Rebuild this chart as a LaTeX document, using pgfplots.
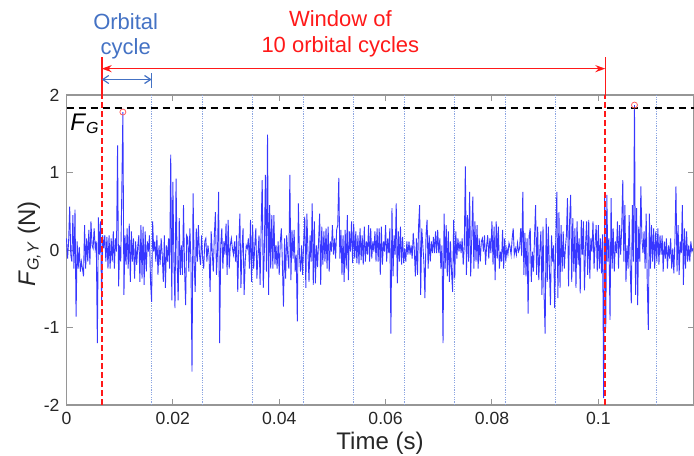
\documentclass[border=0pt]{standalone}
\usepackage{fontspec}
\setmainfont{Liberation Sans}
\usepackage{pgfplots}
\pgfplotsset{compat=1.18}
\usetikzlibrary{arrows.meta}
\definecolor{sig}{RGB}{55,55,255}
\definecolor{cyc}{RGB}{140,165,225}
\definecolor{annblue}{RGB}{68,114,196}
\definecolor{annred}{RGB}{255,25,25}
\definecolor{axgray}{RGB}{150,150,150}
\definecolor{txtgray}{RGB}{38,38,38}
\begin{document}
\begin{tikzpicture}
\useasboundingbox (0,0) rectangle (347pt,227.5pt);
\begin{axis}[
  at={(33.25pt,25pt)}, anchor=south west,
  scale only axis, width=313.5pt, height=155pt,
  xmin=0, xmax=0.1179, ymin=-2, ymax=2,
  xtick={0,0.02,0.04,0.06,0.08,0.1},
  xticklabels={0,0.02,0.04,0.06,0.08,0.1},
  ytick={-2,-1,0,1,2},
  yticklabels={-2,-1,0,1,2},
  tick align=inside,
  axis line style={axgray, line width=0.6pt},
  every tick/.style={axgray, line width=0.5pt},
  major tick length=3pt,
  tick label style={font=\fontsize{8.8}{10}\selectfont, text=txtgray},
  xlabel={Time (s)},
  ylabel={\textit{F}\textsubscript{\textit{G,Y}} (N)},
  xlabel style={at={(rel axis cs:0.5,0)}, anchor=base, yshift=-22pt, font=\fontsize{12}{14}\selectfont, text=txtgray},
  ylabel style={at={(rel axis cs:-0.0502,0.52)}, anchor=base, font=\fontsize{12}{14}\selectfont, text=txtgray},
  clip=false,
]
% orbital cycle boundaries
\addplot[cyc, line width=0.5pt, dash pattern=on 0.6pt off 0.6pt] coordinates {(0.01601,-2)(0.01601,2)};
\addplot[cyc, line width=0.5pt, dash pattern=on 0.6pt off 0.6pt] coordinates {(0.02566,-2)(0.02566,2)};
\addplot[cyc, line width=0.5pt, dash pattern=on 0.6pt off 0.6pt] coordinates {(0.03506,-2)(0.03506,2)};
\addplot[cyc, line width=0.5pt, dash pattern=on 0.6pt off 0.6pt] coordinates {(0.04464,-2)(0.04464,2)};
\addplot[cyc, line width=0.5pt, dash pattern=on 0.6pt off 0.6pt] coordinates {(0.05398,-2)(0.05398,2)};
\addplot[cyc, line width=0.5pt, dash pattern=on 0.6pt off 0.6pt] coordinates {(0.06363,-2)(0.06363,2)};
\addplot[cyc, line width=0.5pt, dash pattern=on 0.6pt off 0.6pt] coordinates {(0.07297,-2)(0.07297,2)};
\addplot[cyc, line width=0.5pt, dash pattern=on 0.6pt off 0.6pt] coordinates {(0.08256,-2)(0.08256,2)};
\addplot[cyc, line width=0.5pt, dash pattern=on 0.6pt off 0.6pt] coordinates {(0.09195,-2)(0.09195,2)};
\addplot[cyc, line width=0.5pt, dash pattern=on 0.6pt off 0.6pt] coordinates {(0.11094,-2)(0.11094,2)};
% signal
\addplot[sig, line width=0.45pt] coordinates {
(0,0.15)(0.0002,-0.11)(0.0004,0.11)(0.0006,0.56)(0.0008,-0.06)(0.0010,-0.15)(0.0012,0.45)(0.0014,-0.24)(0.0016,0.52)(0.0018,-0.86)
(0.0020,0.11)(0.0022,-0.24)(0.0024,0.04)(0.0026,-0.28)(0.0028,-0.15)(0.0030,-0.24)(0.0032,-0.34)(0.0034,0.32)(0.0036,-0.24)(0.0038,0.15)
(0.0040,-0.15)(0.0042,0.26)(0.0044,-0.19)(0.0046,0.37)(0.0048,0.06)(0.0050,0.02)(0.0052,0.28)(0.0054,0.02)(0.0056,0.11)(0.0058,-1.20)
(0.0060,0.42)(0.0062,-0.06)(0.0064,0.37)(0.0066,-0.67)(0.0068,0.19)(0.0070,0.02)(0.0072,0.19)(0.0074,-0.15)(0.0076,0.17)(0.0078,-0.24)
(0.0080,0.19)(0.0082,-0.24)(0.0084,0.15)(0.0086,-0.15)(0.0088,0.24)(0.0090,-0.24)(0.0092,0.15)(0.0094,-0.02)(0.0096,1.35)(0.0098,-0.47)
(0.0100,0.06)(0.0102,-0.15)(0.0104,0.75)(0.0106,1.78)(0.0108,-0.58)(0.0110,0.19)(0.0112,-0.19)(0.0114,0.28)(0.0116,-0.24)(0.0118,0.34)
(0.0120,-0.41)(0.0122,0.24)(0.0124,-0.15)(0.0126,0.15)(0.0128,-0.37)(0.0130,0.11)(0.0132,-0.19)(0.0134,0.05)(0.0136,0.19)(0.0138,-0.41)
(0.0140,0.32)(0.0142,-0.37)(0.0144,0.30)(0.0146,-0.45)(0.0148,0.24)(0.0150,-0.28)(0.0152,0.11)(0.0154,-0.02)(0.0156,0.19)(0.0158,-0.41)
(0.0160,-0.67)(0.0162,0.37)(0.0164,-0.02)(0.0166,0.11)(0.0168,-0.15)(0.0170,0.19)(0.0172,-0.32)(0.0174,0.06)(0.0176,-0.19)(0.0178,0.15)
(0.0180,-0.06)(0.0182,-0.41)(0.0184,0.19)(0.0186,-0.49)(0.0188,0.06)(0.0190,-0.15)(0.0192,0.15)(0.0194,-0.24)(0.0196,1.23)(0.0198,-0.65)
(0.0200,0.88)(0.0202,-0.15)(0.0204,-0.75)(0.0206,0.92)(0.0208,-0.15)(0.0210,-0.65)(0.0212,0.41)(0.0214,-0.32)(0.0216,0.06)(0.0218,-0.32)
(0.0220,0.58)(0.0222,-0.24)(0.0224,-0.71)(0.0226,0.19)(0.0228,0.15)(0.0230,-0.28)(0.0232,0.28)(0.0234,-0.15)(0.0236,-1.57)(0.0238,0.73)
(0.0240,-0.15)(0.0242,-0.54)(0.0244,0.28)(0.0246,-0.15)(0.0248,0.32)(0.0250,-0.06)(0.0252,-0.19)(0.0254,0.19)(0.0256,-0.11)(0.0258,-0.24)
(0.0260,0.11)(0.0262,0.15)(0.0264,-0.15)(0.0266,0.06)(0.0268,-0.06)(0.0270,-0.54)(0.0272,0.24)(0.0274,-0.02)(0.0276,-0.28)(0.0278,0.19)
(0.0280,0.49)(0.0282,-0.32)(0.0284,-0.02)(0.0286,0.75)(0.0288,-1.20)(0.0290,0.06)(0.0292,0.28)(0.0294,-0.24)(0.0296,0.11)(0.0298,-0.06)
(0.0300,0.34)(0.0302,-0.32)(0.0304,0.39)(0.0306,-0.24)(0.0308,0.06)(0.0310,0.15)(0.0312,0.02)(0.0314,-0.06)(0.0316,0.11)(0.0318,-0.15)
(0.0320,0.19)(0.0322,-0.54)(0.0324,0.06)(0.0326,0.47)(0.0328,-0.49)(0.0330,0.02)(0.0332,0.28)(0.0334,-0.58)(0.0336,-0.15)(0.0338,0.06)
(0.0340,0.02)(0.0342,0.15)(0.0344,-0.24)(0.0346,0.39)(0.0348,-0.41)(0.0350,0.32)(0.0352,-0.24)(0.0354,0.06)(0.0356,0.28)(0.0358,-0.37)
(0.0360,-0.06)(0.0362,0.19)(0.0364,-0.45)(0.0366,0.28)(0.0368,0.90)(0.0370,-0.49)(0.0372,-0.02)(0.0374,0.97)(0.0376,-0.28)(0.0378,1.49)
(0.0380,-0.58)(0.0382,0.58)(0.0384,-0.24)(0.0386,0.45)(0.0388,-0.24)(0.0390,0.45)(0.0392,-0.19)(0.0394,0.06)(0.0396,-0.24)(0.0398,0.11)
(0.0400,-0.32)(0.0402,0.10)(0.0404,0.28)(0.0406,-0.19)(0.0408,-0.73)(0.0410,0.15)(0.0412,-0.37)(0.0414,0.19)(0.0416,-0.06)(0.0418,-0.24)
(0.0420,0.97)(0.0422,-0.39)(0.0424,0.26)(0.0426,-0.11)(0.0428,0.26)(0.0430,-0.28)(0.0432,-0.06)(0.0434,-0.92)(0.0436,0.60)(0.0438,-0.06)
(0.0440,-0.28)(0.0442,0.06)(0.0444,-0.32)(0.0446,0.11)(0.0448,0.43)(0.0450,-0.49)(0.0452,0.47)(0.0454,-0.02)(0.0456,-0.41)(0.0458,0.19)
(0.0460,-0.15)(0.0462,0.60)(0.0464,-0.45)(0.0466,0.37)(0.0468,-0.43)(0.0470,0.06)(0.0472,-0.22)(0.0474,0.11)(0.0476,0.47)(0.0478,-0.45)
(0.0480,0.30)(0.0482,-0.19)(0.0484,0.24)(0.0486,-0.15)(0.0488,0.28)(0.0490,-0.24)(0.0492,0.30)(0.0494,-0.28)(0.0496,0.11)(0.0498,-0.02)
(0.0500,0.32)(0.0502,-0.06)(0.0504,0.15)(0.0506,-0.11)(0.0508,0.26)(0.0510,0.32)(0.0512,0.93)(0.0514,-0.11)(0.0516,0.26)(0.0518,-0.32)
(0.0520,0.19)(0.0522,-0.41)(0.0524,0.26)(0.0526,-0.24)(0.0528,0.45)(0.0530,-0.39)(0.0532,0.24)(0.0534,-0.02)(0.0536,0.37)(0.0538,-0.17)
(0.0540,0.34)(0.0542,-0.11)(0.0544,0.24)(0.0546,-0.17)(0.0548,0.19)(0.0550,-0.19)(0.0552,0.28)(0.0554,-0.13)(0.0556,0.19)(0.0558,-0.19)
(0.0560,0.30)(0.0562,-0.15)(0.0564,0.11)(0.0566,-0.06)(0.0568,0.32)(0.0570,-0.15)(0.0572,0.28)(0.0574,-0.11)(0.0576,0.11)(0.0578,-0.02)
(0.0580,0.24)(0.0582,-0.15)(0.0584,0.28)(0.0586,-0.15)(0.0588,0.28)(0.0590,-0.32)(0.0592,0.30)(0.0594,-0.19)(0.0596,0.11)(0.0598,-0.02)
(0.0600,0.32)(0.0602,-0.15)(0.0604,0.15)(0.0606,-0.04)(0.0608,0.28)(0.0610,-1.08)(0.0612,0.54)(0.0614,-0.34)(0.0616,0.19)(0.0618,-0.06)
(0.0620,0.60)(0.0622,-0.43)(0.0624,0.24)(0.0626,-0.15)(0.0628,0.30)(0.0630,-0.19)(0.0632,0.17)(0.0634,-0.17)(0.0636,0.02)(0.0638,-0.15)
(0.0640,0.11)(0.0642,-0.06)(0.0644,0.11)(0.0646,-0.06)(0.0648,0.06)(0.0650,-0.11)(0.0652,0.22)(0.0654,0.00)(0.0656,-0.34)(0.0658,0.15)
(0.0660,-0.32)(0.0662,0.30)(0.0664,0.58)(0.0666,-0.58)(0.0668,0.28)(0.0670,0.06)(0.0672,-0.15)(0.0674,-0.62)(0.0676,0.19)(0.0678,0.39)
(0.0680,-0.24)(0.0682,0.19)(0.0684,-0.15)(0.0686,0.11)(0.0688,-0.04)(0.0690,0.17)(0.0692,-0.04)(0.0694,0.24)(0.0696,-0.04)(0.0698,0.26)
(0.0700,-0.04)(0.0702,0.15)(0.0704,-0.24)(0.0706,0.06)(0.0708,-1.20)(0.0710,0.47)(0.0712,-0.24)(0.0714,0.32)(0.0716,-0.34)(0.0718,0.24)
(0.0720,-0.41)(0.0722,0.11)(0.0724,-0.28)(0.0726,-0.54)(0.0728,0.39)(0.0730,-0.37)(0.0732,0.24)(0.0734,-0.11)(0.0736,0.15)(0.0738,-0.02)
(0.0740,0.11)(0.0742,-0.04)(0.0744,0.15)(0.0746,-0.19)(0.0748,0.06)(0.0750,1.08)(0.0752,-0.32)(0.0754,0.45)(0.0756,-0.15)(0.0758,0.75)
(0.0760,-0.34)(0.0762,0.15)(0.0764,0.69)(0.0766,-0.24)(0.0768,0.37)(0.0770,-0.15)(0.0772,0.32)(0.0774,-0.24)(0.0776,0.15)(0.0778,-0.15)
(0.0780,0.11)(0.0782,0.15)(0.0784,-0.02)(0.0786,0.19)(0.0788,-0.19)(0.0790,0.06)(0.0792,0.19)(0.0794,-0.11)(0.0796,0.15)(0.0798,-0.04)
(0.0800,0.37)(0.0802,-0.19)(0.0804,0.30)(0.0806,-0.39)(0.0808,0.37)(0.0810,-0.11)(0.0812,0.30)(0.0814,-0.24)(0.0816,-0.02)(0.0818,-0.15)
(0.0820,0.26)(0.0822,-0.24)(0.0824,0.15)(0.0826,-0.15)(0.0828,0.02)(0.0830,-0.06)(0.0832,0.09)(0.0834,0.04)(0.0836,-0.06)(0.0838,0.15)
(0.0840,0.28)(0.0842,-0.06)(0.0844,0.02)(0.0846,-0.06)(0.0848,0.09)(0.0850,-0.02)(0.0852,0.02)(0.0854,0.28)(0.0856,-0.08)(0.0858,0.75)
(0.0860,-0.32)(0.0862,0.22)(0.0864,-0.34)(0.0866,0.15)(0.0868,-0.82)(0.0870,0.19)(0.0872,0.28)(0.0874,-0.41)(0.0876,-0.02)(0.0878,-0.28)
(0.0880,0.15)(0.0882,0.58)(0.0884,-0.32)(0.0886,0.30)(0.0888,-0.39)(0.0890,-0.02)(0.0892,0.24)(0.0894,-0.58)(0.0896,0.30)(0.0898,-0.58)
(0.0900,-1.08)(0.0902,0.41)(0.0904,-0.41)(0.0906,0.30)(0.0908,-0.24)(0.0910,-0.71)(0.0912,0.19)(0.0914,-0.15)(0.0916,0.06)(0.0918,-0.75)
(0.0920,0.15)(0.0922,0.75)(0.0924,-0.62)(0.0926,0.49)(0.0928,-0.49)(0.0930,0.32)(0.0932,-0.28)(0.0934,0.24)(0.0936,-0.24)(0.0938,0.02)
(0.0940,0.19)(0.0942,0.67)(0.0944,-0.47)(0.0946,0.37)(0.0948,0.71)(0.0950,-0.41)(0.0952,0.41)(0.0954,-0.28)(0.0956,0.28)(0.0958,-0.49)
(0.0960,0.37)(0.0962,-0.19)(0.0964,0.15)(0.0966,-0.56)(0.0968,0.39)(0.0970,-0.06)(0.0972,0.37)(0.0974,-0.52)(0.0976,0.06)(0.0978,0.37)
(0.0980,-0.32)(0.0982,0.39)(0.0984,-0.37)(0.0986,0.15)(0.0988,-0.02)(0.0990,0.37)(0.0992,-0.24)(0.0994,0.09)(0.0996,0.32)(0.0998,-0.28)
(0.1000,0.32)(0.1002,-0.24)(0.1004,0.15)(0.1006,-0.30)(0.1008,0.20)(0.1010,-1.91)(0.1012,0.73)(0.1014,-1.01)(0.1016,0.71)(0.1018,-0.15)
(0.1020,0.15)(0.1022,-0.90)(0.1024,0.67)(0.1026,-0.24)(0.1028,0.28)(0.1030,-0.28)(0.1032,0.11)(0.1034,-0.04)(0.1036,0.37)(0.1038,-0.24)
(0.1040,0.32)(0.1042,-0.06)(0.1044,0.28)(0.1046,0.90)(0.1048,-0.15)(0.1050,0.58)(0.1052,-0.41)(0.1054,0.06)(0.1056,-0.24)(0.1058,0.45)
(0.1060,-0.24)(0.1062,-0.69)(0.1064,0.58)(0.1066,-0.15)(0.1068,1.87)(0.1070,-0.58)(0.1072,0.54)(0.1074,-0.71)(0.1076,0.30)(0.1078,-0.15)
(0.1080,0.82)(0.1082,0.15)(0.1084,-0.04)(0.1086,0.24)(0.1088,-0.24)(0.1090,0.47)(0.1092,-0.41)(0.1094,-1.03)(0.1096,0.47)(0.1098,-0.24)
(0.1100,0.32)(0.1102,-0.15)(0.1104,0.28)(0.1106,-0.24)(0.1108,0.24)(0.1110,-0.15)(0.1112,0.28)(0.1114,-0.19)(0.1116,0.19)(0.1118,-0.06)
(0.1120,0.19)(0.1122,-0.28)(0.1124,0.11)(0.1126,-0.11)(0.1128,0.15)(0.1130,-0.24)(0.1132,0.06)(0.1134,-0.11)(0.1136,0.15)(0.1138,-0.24)
(0.1140,0.02)(0.1142,-0.30)(0.1144,0.11)(0.1146,0.82)(0.1148,-0.28)(0.1150,0.32)(0.1152,-0.32)(0.1154,0.11)(0.1156,-0.04)(0.1158,0.58)
(0.1160,-0.45)(0.1162,0.28)(0.1164,-0.24)(0.1166,0.24)(0.1168,-0.15)(0.1170,0.06)(0.1172,-0.15)(0.1174,0.11)(0.1176,-0.02)(0.1178,0.02)
};
% gravity force level
\addplot[black, line width=0.8pt, dash pattern=on 3.5pt off 2.5pt] coordinates {(0,1.83)(0.1179,1.83)};
% window boundaries
\addplot[annred, line width=0.9pt, dash pattern=on 3pt off 1.5pt] coordinates {(0.00662,-2)(0.00662,2)};
\addplot[annred, line width=0.9pt, dash pattern=on 3pt off 1.5pt] coordinates {(0.10132,-2)(0.10132,2)};
% maxima
\addplot[only marks, mark=o, mark size=1.5pt, draw=annred!70, line width=0.4pt] coordinates {(0.0106,1.78)(0.1068,1.87)};
% annotations
\draw[annred, line width=0.8pt] (axis cs:0.00662,2) -- (axis cs:0.00662,2.49);
\draw[annred, line width=0.8pt] (axis cs:0.10132,2) -- (axis cs:0.10132,2.49);
\draw[annred, line width=0.8pt, {Stealth[length=5pt,width=3.5pt]}-{Stealth[length=5pt,width=3.5pt]}] (axis cs:0.00662,2.34) -- (axis cs:0.10132,2.34);
\draw[annblue, line width=0.6pt] (axis cs:0.01601,2.09) -- (axis cs:0.01601,2.28);
\draw[annblue, line width=0.6pt, {Straight Barb[length=3pt,width=4pt]}-{Straight Barb[length=3pt,width=4pt]}] (axis cs:0.00662,2.20) -- (axis cs:0.01601,2.20);
\node[annblue, anchor=base, font=\fontsize{11}{13}\selectfont] at (axis cs:0.01113,2.848) {Orbital};
\node[annblue, anchor=base, font=\fontsize{11}{13}\selectfont] at (axis cs:0.01113,2.525) {cycle};
\node[annred, anchor=base, font=\fontsize{11}{13}\selectfont] at (axis cs:0.0515,2.881) {Window of};
\node[annred, anchor=base, font=\fontsize{11}{13}\selectfont] at (axis cs:0.0515,2.546) {10 orbital cycles};
\node[anchor=base west, inner sep=0pt, font=\fontsize{12}{14}\selectfont] at (axis cs:0.00066,1.548) {\textit{F}\textsubscript{\textit{G}}};
\end{axis}
\end{tikzpicture}
\end{document}
